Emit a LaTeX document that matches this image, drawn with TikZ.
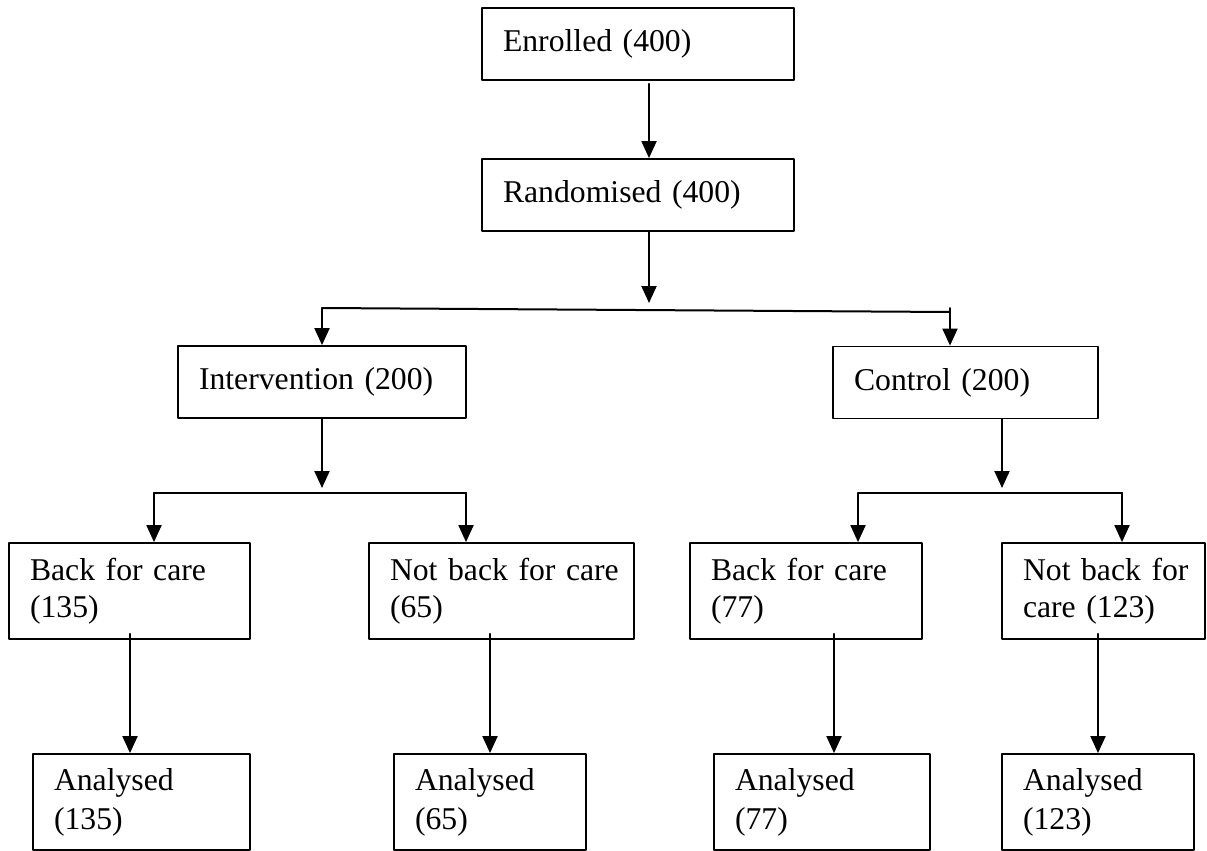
\documentclass[tikz,border=0pt]{standalone}
\usepackage{fontspec}
\setmainfont{Liberation Serif}
\usetikzlibrary{arrows.meta}

\begin{document}
\begin{tikzpicture}[x=1pt,y=1pt,line cap=round,line join=round,
    stage/.style={draw,line width=1.8pt,inner xsep=21pt,inner ysep=0pt,align=left,
      font=\fontsize{31.7}{37}\selectfont},
    flow/.style={line width=2pt,-{Triangle[width=15pt,length=17pt]}},
    link/.style={line width=2pt}]
  \useasboundingbox (0,0) rectangle (1207,-851);
  % boxes
  \node[stage,text width=270pt,minimum height=72pt] (enrol) at (638,-44) {\mbox{Enrolled (400)}};
  \node[stage,text width=270pt,minimum height=72pt] (rand) at (638,-195) {\mbox{Randomised (400)}};
  \node[stage,text width=246pt,minimum height=72pt] (interv) at (322,-382) {\mbox{Intervention (200)}};
  \node[stage,text width=223pt,minimum height=72pt] (ctrl) at (965.5,-382.5) {\mbox{Control (200)}};
  \node[stage,text width=199pt,minimum height=96pt] (ibk) at (129.5,-591) {\mbox{Back for care}\\(135)};
  \node[stage,text width=223pt,minimum height=96pt] (inot) at (501.5,-591) {\mbox{Not back for care}\\(65)};
  \node[stage,text width=190pt,minimum height=96pt] (cbk) at (806,-591) {\mbox{Back for care}\\(77)};
  \node[stage,text width=161pt,minimum height=96pt] (cnot) at (1103.5,-591) {\mbox{Not back for}\\\mbox{care (123)}};
  \node[stage,text width=175pt,minimum height=96pt,font=\fontsize{31.7}{39}\selectfont] (ibkA) at (141.5,-802) {Analysed\\(135)};
  \node[stage,text width=150pt,minimum height=96pt,font=\fontsize{31.7}{39}\selectfont] (inotA) at (490,-802) {Analysed\\(65)};
  \node[stage,text width=174pt,minimum height=96pt,font=\fontsize{31.7}{39}\selectfont] (cbkA) at (822,-802) {Analysed\\(77)};
  \node[stage,text width=150pt,minimum height=96pt,font=\fontsize{31.7}{39}\selectfont] (cnotA) at (1098,-802) {Analysed\\(123)};
  % junction points
  \coordinate (trunk) at (649,-303);
  \coordinate (sL) at (322,-308);
  \coordinate (sR) at (950,-312);
  \coordinate (iT) at (322,-488);
  \coordinate (iL) at (154,-493);
  \coordinate (iR) at (466,-493);
  \coordinate (cT) at (1002,-488);
  \coordinate (cL) at (858,-493);
  \coordinate (cR) at (1122,-493);
  \coordinate (x1) at (130,0);
  \coordinate (x2) at (490,0);
  \coordinate (x3) at (834,0);
  \coordinate (x4) at (1098,0);
  % connectors
  \draw[flow] ([yshift=-3pt]enrol.south -| trunk) -- (rand.north -| trunk);
  \draw[flow] (rand.south -| trunk) -- (trunk);
  \draw[link] (sL) -- (sR);
  \draw[flow] (sL) -- (interv.north -| sL);
  \draw[flow] ([yshift=4pt]sR) -- (ctrl.north -| sR);
  \draw[flow] (interv.south) -- (iT);
  \draw[link] (iL) -- (iR);
  \draw[flow] (iL) -- (ibk.north -| iL);
  \draw[flow] (iR) -- (inot.north -| iR);
  \draw[flow] (ctrl.south -| cT) -- (cT);
  \draw[link] (cL) -- (cR);
  \draw[flow] (cL) -- (cbk.north -| cL);
  \draw[flow] (cR) -- (cnot.north -| cR);
  \draw[flow] ([yshift=6pt]ibk.south -| x1) -- (ibkA.north -| x1);
  \draw[flow] ([yshift=6pt]inot.south -| x2) -- (inotA.north -| x2);
  \draw[flow] ([yshift=6pt]cbk.south -| x3) -- (cbkA.north -| x3);
  \draw[flow] ([yshift=6pt]cnot.south -| x4) -- (cnotA.north -| x4);
\end{tikzpicture}
\end{document}
